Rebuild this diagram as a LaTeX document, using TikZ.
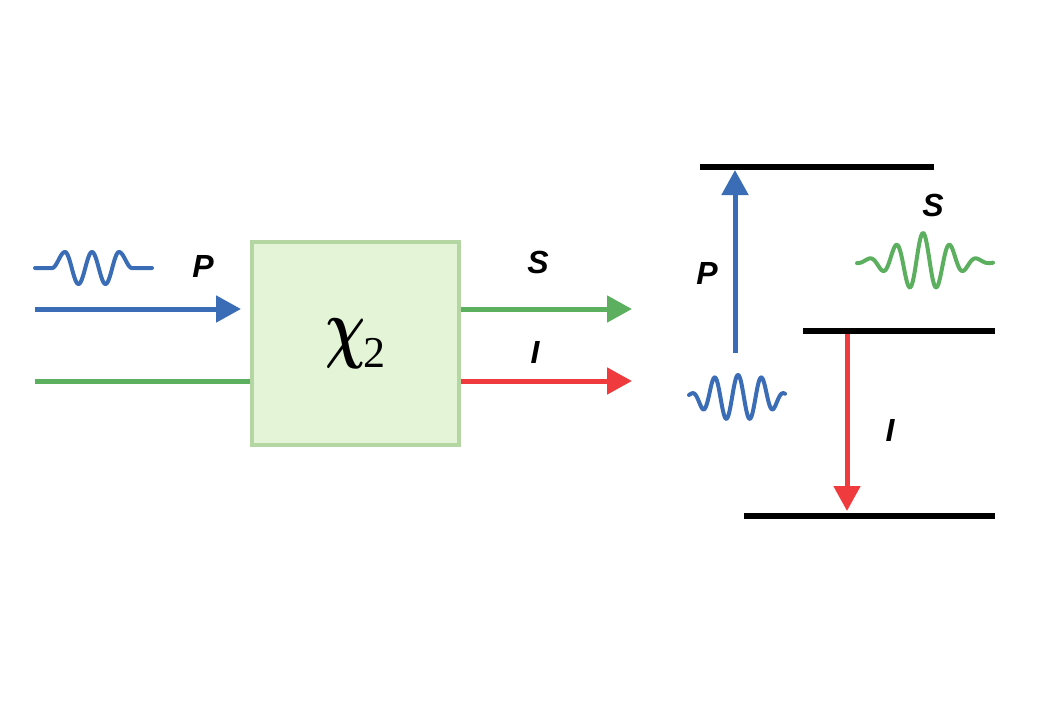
\documentclass[tikz,border=0pt]{standalone}
\usepackage{fontspec}
\newfontfamily\labfont{Liberation Sans}
\newfontfamily\chifont{Liberation Serif}
\usetikzlibrary{arrows.meta}
\definecolor{cblue}{HTML}{3B6DB6}
\definecolor{cgreen}{HTML}{5CAF5E}
\definecolor{cred}{HTML}{EF3B3D}
\definecolor{boxfill}{HTML}{E3F4D7}
\definecolor{boxdraw}{HTML}{B3D6A2}
\begin{document}
\begin{tikzpicture}[x=1pt,y=-1pt,
  lab/.style={font=\labfont\bfseries\itshape\fontsize{32}{32}\selectfont, inner sep=0pt},
  beam/.style={line width=5pt},
  tip/.style={-{Triangle[length=25pt,width=26pt]}},
  level/.style={line width=5.5pt, black},
  wave/.style={line width=4pt, line cap=round, line join=round}]
\useasboundingbox[fill=white] (0,0) rectangle (1060,707);

% crystal box
\node[draw=boxdraw, fill=boxfill, line width=4pt, minimum width=207pt,
      minimum height=203pt, inner sep=0pt] (box) at (355.5,343.5)
      {\scalebox{5.6}[7.8]{\boldmath$\chi$}\hspace{-2pt}\raisebox{-14pt}{\chifont\fontsize{44}{44}\selectfont 2}\hspace{2pt}};

% left side
\draw[wave,cblue] plot[domain=-57:60,samples=240,smooth]
  ({92+\x},{268-16*ifthenelse(abs(\x)<=27, cos(\x*13.333), ifthenelse(abs(\x)<40, 0.5*(1+cos(13.846*(abs(\x)-27))), 0))});
\node[lab] (lP) at (203,266) {P};
\coordinate (pin) at (35,309);
\coordinate (pend) at (241,309);
\draw[beam,cblue,tip] (pin) -- (pend);
\coordinate (gin) at (35,381);
\draw[beam,cgreen] (gin) -- (gin -| box.west);

% outputs
\coordinate (sout) at (632,309);
\coordinate (iout) at (632,381);
\draw[beam,cgreen,tip] (box.east |- sout) -- (sout);
\draw[beam,cred,tip] (box.east |- iout) -- (iout);
\node[lab] (lS) at (538,262) {S};
\node[lab] (lI) at (535,352) {I};

% energy levels
\coordinate (top1) at (700,167);
\coordinate (top2) at (934,167);
\coordinate (mid1) at (803,331);
\coordinate (mid2) at (995,331);
\coordinate (bot1) at (744,516);
\coordinate (bot2) at (995,516);
\draw[level] (top1) -- (top2);
\draw[level] (mid1) -- (mid2);
\draw[level] (bot1) -- (bot2);

\coordinate (pa) at (735,353);
\draw[beam,cblue,tip] (pa) -- (pa |- 0,170);
\coordinate (ia) at (847,334);
\draw[beam,cred,tip] (ia) -- (ia |- 0,511);

\node[lab] (rP) at (707,273) {P};
\node[lab] (rS) at (933,205) {S};
\node[lab] (rI) at (890,430) {I};

\draw[wave,cblue] plot[domain=-49:47,samples=160,smooth]
  ({738+\x},{397-22*exp(-(\x*\x/1600)^2)*cos(\x*15.32)});
\draw[wave,cgreen] plot[domain=-66:70,samples=160,smooth]
  ({923+\x},{262-29*exp(-\x*\x/1369)*cos(\x*13.333)});
\end{tikzpicture}
\end{document}
